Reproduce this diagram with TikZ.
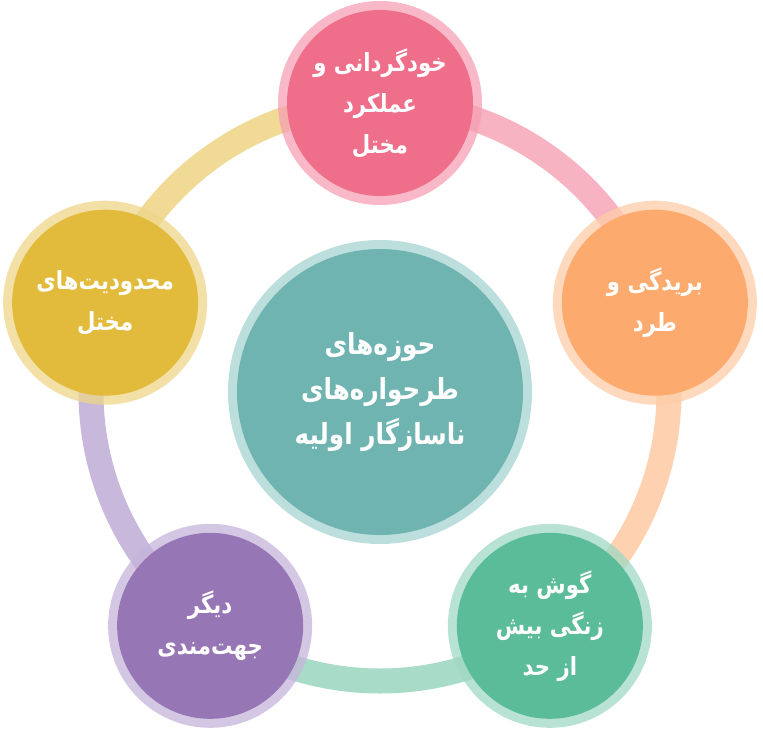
\documentclass[tikz,border=0pt]{standalone}
\usepackage{fontspec}
\newfontfamily\farsifont[Script=Arabic, FakeStretch=0.85]{DejaVu Sans}
\TeXXeTstate=1
\usepackage{xcolor}
\definecolor{corefill}{RGB}{112, 180, 177}
\definecolor{coreedge}{RGB}{166, 212, 210}
\definecolor{pinkfill}{RGB}{239, 111, 138}
\definecolor{pinkedge}{RGB}{245, 160, 180}
\definecolor{pinkring}{RGB}{247, 179, 194}
\definecolor{orangefill}{RGB}{253, 170, 111}
\definecolor{orangeedge}{RGB}{254, 204, 168}
\definecolor{orangering}{RGB}{254, 209, 176}
\definecolor{greenfill}{RGB}{91, 188, 154}
\definecolor{greenedge}{RGB}{160, 216, 196}
\definecolor{greenring}{RGB}{168, 220, 201}
\definecolor{purplefill}{RGB}{150, 118, 180}
\definecolor{purpleedge}{RGB}{198, 180, 218}
\definecolor{purplering}{RGB}{200, 184, 219}
\definecolor{yellowfill}{RGB}{227, 187, 60}
\definecolor{yellowedge}{RGB}{238, 214, 138}
\definecolor{yellowring}{RGB}{240, 218, 150}
\usepackage{tikz}
\usetikzlibrary{
    calc,
    backgrounds
}
\newcommand{\rtltext}[1]{\beginR #1\endR}
\tikzstyle{domainnode} = [
    circle,
    inner sep=0pt,
    minimum size=186pt,
    text=white,
    align=center,
    font=\farsifont\bfseries\fontsize{25}{41}\selectfont
]
\tikzstyle{ringseg} = [
    line width=25pt
]

\begin{document}
\begin{tikzpicture}[
    x=1pt, y=1pt,
    halo/.style={preaction={draw=#1, line width=18pt, draw opacity=0.75}},
    corenode/.style={circle, inner sep=0pt, minimum size=286pt, text=white, align=center,
        font=\farsifont\bfseries\fontsize{29}{45}\selectfont}
]
    \useasboundingbox (0,0) rectangle (763,-734);

    % Core
    \node[corenode, fill=corefill, halo=coreedge] (core) at (380,-392)
        {\rtltext{حوزه^^^^200cهای}\\\rtltext{طرحواره^^^^200cهای}\\\rtltext{ناسازگار اولیه}};

    % Domains around the ring
    \node[domainnode, fill=pinkfill, halo=pinkedge] (autonomy) at ($(core)+(90:289)$)
        {\rtltext{خودگردانی و}\\\rtltext{عملکرد}\\\rtltext{مختل}};
    \node[domainnode, fill=orangefill, halo=orangeedge] (rejection) at ($(core)+(18:289)$)
        {\rtltext{بریدگی و}\\\rtltext{طرد}};
    \node[domainnode, fill=greenfill, halo=greenedge] (vigilance) at ($(core)+(-54:289)$)
        {\rtltext{گوش به}\\\rtltext{زنگی بیش}\\\rtltext{از حد}};
    \node[domainnode, fill=purplefill, halo=purpleedge] (otherdir) at ($(core)+(-126:289)$)
        {\rtltext{دیگر}\\\rtltext{جهت^^^^200cمندی}};
    \node[domainnode, fill=yellowfill, halo=yellowedge] (limits) at ($(core)+(162:289)$)
        {\rtltext{محدودیت^^^^200cهای}\\\rtltext{مختل}};

    % Ring
    \begin{scope}[on background layer]
        \draw[ringseg, draw=pinkring] (autonomy.center) arc[start angle=90, end angle=18, radius=289pt];
        \draw[ringseg, draw=orangering] (rejection.center) arc[start angle=18, end angle=-54, radius=289pt];
        \draw[ringseg, draw=greenring] (vigilance.center) arc[start angle=-54, end angle=-126, radius=289pt];
        \draw[ringseg, draw=purplering] (otherdir.center) arc[start angle=-126, end angle=-198, radius=289pt];
        \draw[ringseg, draw=yellowring] (limits.center) arc[start angle=162, end angle=90, radius=289pt];
    \end{scope}

\end{tikzpicture}
\end{document}
